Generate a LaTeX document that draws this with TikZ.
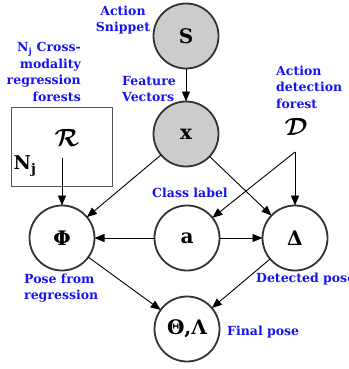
\documentclass[tikz,border=0pt]{standalone}
\usepackage{fontspec}
\setmainfont{DejaVu Serif}
\usepackage{bm}
\usepackage{tikz}
\usepackage{tkz-graph}
\usetikzlibrary{shapes,arrows.meta}
\definecolor{shade}{HTML}{CCCCCC}
\definecolor{ring}{HTML}{333333}
\definecolor{boxgray}{HTML}{555555}
\definecolor{notecol}{HTML}{1414F0}
\newcommand{\vfont}{\fontsize{20}{20}\selectfont\bfseries}
\newcommand{\notefont}{\fontsize{12.5}{16.5}\selectfont\bfseries}
\newcommand{\shadednode}[4]{
  \SetVertexNormal[Shape     = circle,
                   FillColor = shade,
                   LineColor = ring,
                   LineWidth = 1.8pt,
                   MinSize   = 65pt]
  \Vertex[x=#1,y=#2,L={\vfont #3}]{#4}
  \SetVertexNormal[Shape     = circle,
                   FillColor = white,
                   LineColor = ring,
                   LineWidth = 1.8pt,
                   MinSize   = 65pt]
}
\tikzset{note/.style = {text=notecol, font=\notefont, inner sep=0pt}}

\begin{document}
\begin{tikzpicture}[x=1pt, y=-1pt, >={Triangle[length=10pt,width=8pt]}]
  \useasboundingbox (0,0) rectangle (348,369);
  \shadednode{186}{36}{S}{S}
  \shadednode{186}{134}{x}{X}
  \Vertex[x=62,y=238,L={\vfont Φ}]{Phi}
  \Vertex[x=187,y=238,L={\vfont a}]{A}
  \Vertex[x=295,y=238,L={\vfont Δ}]{Delta}
  \Vertex[x=187,y=329,L={\vfont Θ,Λ}]{Pose}
  % forests
  \node[draw=boxgray, line width=1.2pt, minimum width=101pt, minimum height=79pt,
        inner sep=0pt, anchor=north west] (Rbox) at (11,107) {};
  \node (Rsym) at (67,138) {\fontsize{28}{28}\selectfont$\bm{\mathcal{R}}$};
  \node (Nj) at (25,166) {\fontsize{19}{19}\selectfont\bfseries N\textsubscript{j}};
  \node (Dsym) at (296,127) {\fontsize{28}{28}\selectfont$\bm{\mathcal{D}}$};
  \coordinate (Rout) at (62,158);
  \coordinate (Dout) at (295,152);
  % labels
  \node[note, align=center] (snip) at (123,20) {Action\\Snippet};
  \node[note, align=right, anchor=east] (reg) at (81,72)
    {N\textsubscript{j} Cross-\\modality\\regression\\forests};
  \node[note, align=left, anchor=west] (feat) at (122,89) {Feature\\Vectors};
  \node[note, align=left, anchor=west] (det) at (276,87) {Action\\detection\\forest};
  \node[note, anchor=west] (cls) at (152,193) {Class label};
  \node[note, align=left, anchor=west] (pfr) at (24,288) {Pose from\\regression};
  \node[note, anchor=west] (dp) at (256,279) {Detected pose};
  \node[note, anchor=west] (fp) at (227,332) {Final pose};
  \tikzstyle{EdgeStyle}=[->, line width=0.9pt]
  \Edge(S)(X)
  \Edge(X)(Phi)
  \Edge(X)(Delta)
  \Edge(Rout)(Phi)
  \Edge(Dout)(A)
  \Edge(Dout)(Delta)
  \Edge(A)(Phi)
  \Edge(A)(Delta)
  \Edge(Phi)(Pose)
  \Edge(Delta)(Pose)
\end{tikzpicture}
\end{document}
